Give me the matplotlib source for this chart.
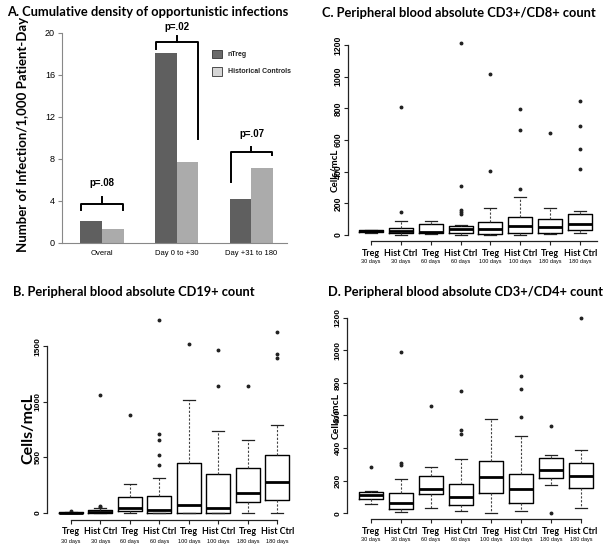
import matplotlib
matplotlib.use('Agg')
import matplotlib.pyplot as plt
from matplotlib.patches import Rectangle
import matplotlib.transforms as mtransforms

# ---------------- data ----------------
a_groups = ['Overal', 'Day 0 to +30', 'Day +31 to 180']
a_ntreg = [2.1, 18.1, 4.2]
a_hist = [1.35, 7.7, 7.15]
a_pvals = ['p=.08', 'p=.02', 'p=.07']
a_yticks = [0, 4, 8, 12, 16, 20]

box_labels = ['Treg', 'Hist Ctrl'] * 4
box_days = ['30 days', '30 days', '60 days', '60 days',
            '100 days', '100 days', '180 days', '180 days']

# B: CD19+
b_lo = [0, 0, 0, 0, 0, 0, 0, 0]
b_q1 = [0, 0, 21, 0, 0, 0, 99, 114]
b_med = [3, 8, 42, 24, 72, 48, 183, 282]
b_q3 = [6, 25, 144, 153, 447, 354, 408, 519]
b_hi = [10, 42, 264, 318, 1014, 741, 657, 795]
b_fliers = [[18], [52, 62, 1065], [885], [429, 525, 660, 708, 1734],
            [1515], [1146, 1461], [1146], [1389, 1425, 1629]]
b_yticks = [0, 500, 1000, 1500]

# C: CD3+/CD8+
c_lo = [14, 0, 4, 0, 0, 0, 6, 10]
c_q1 = [17, 10, 10, 15, 6, 10, 15, 29]
c_med = [22, 25, 19, 38, 40, 59, 52, 71]
c_q3 = [29, 44, 69, 57, 80, 113, 98, 130]
c_hi = [32, 86, 90, 65, 168, 243, 172, 149]
c_fliers = [[], [144, 806], [], [134, 147, 157, 310, 1210], [404, 1015],
            [289, 660, 796], [645], [415, 540, 687, 844]]
c_yticks = [0, 200, 400, 600, 800, 1000, 1200]

# D: CD3+/CD4+
d_lo = [55, 8, 33, 12, 0, 14, 172, 31]
d_q1 = [90, 25, 117, 49, 123, 66, 217, 154]
d_med = [111, 64, 152, 100, 221, 148, 264, 228]
d_q3 = [131, 127, 230, 182, 318, 240, 338, 310]
d_hi = [137, 209, 283, 336, 578, 473, 357, 387]
d_fliers = [[285], [297, 310, 988], [660], [486, 508, 750], [],
            [590, 761, 845], [4, 537], [1196]]
d_yticks = [0, 200, 400, 600, 800, 1000, 1200]

# ---------------- figure ----------------
W, H = 604, 551
fig = plt.figure(figsize=(W / 100, H / 100), dpi=100)
fig.patch.set_facecolor('white')

TITLE_FONT = 'Lato'
ARIAL = 'Liberation Sans'
TITLE_FS = 9.25


def rect(l, t, r, b):
    return [l / W, 1 - b / H, (r - l) / W, (b - t) / H]


def fx(x):
    return x / W


def fy(y):
    return 1 - y / H


# ---------------- Panel A ----------------
axA = fig.add_axes(rect(62, 33, 287, 243))
pos = list(range(len(a_groups)))
bw = 0.29
axA.bar([p - bw / 2 for p in pos], a_ntreg, width=bw, color='#5f5f5f', label='nTreg')
axA.bar([p + bw / 2 for p in pos], a_hist, width=bw, color='#ababab', label='Historical Controls')
axA.set_xlim(-0.535, 2.475)
axA.set_ylim(0, 20)
axA.set_yticks(a_yticks)
axA.set_yticklabels([str(v) for v in a_yticks], fontsize=6.5, family=ARIAL)
axA.set_xticks(pos)
axA.set_xticklabels(a_groups, fontsize=5.5, family=ARIAL)
axA.tick_params(axis='x', length=0, pad=5)
axA.tick_params(axis='y', length=3, color='#888888', pad=2)
for s in ['top', 'right']:
    axA.spines[s].set_visible(False)
for s in ['left', 'bottom']:
    axA.spines[s].set_color('#888888')
    axA.spines[s].set_linewidth(0.8)

# brackets: (left_end_y, right_end_y, horizontal_y, tick_top_y, text_y)
brackets = [(3.1, 3.1, 3.75, 4.4, 5.7),
            (18.5, 9.9, 19.15, 19.7, 20.6),
            (5.8, 8.35, 8.65, 9.15, 10.35)]
for p, (yl, yr, yh, yt, ytxt), txt in zip(pos, brackets, a_pvals):
    xl, xr = p - 0.28, p + 0.28
    axA.plot([xl, xl, xr, xr], [yl, yh, yh, yr], color='black', lw=1.4,
             clip_on=False, solid_joinstyle='round')
    axA.plot([p, p], [yh, yt], color='black', lw=1.4, clip_on=False)
    axA.text(p, ytxt, txt, ha='center', va='center', fontsize=7,
             fontweight='bold', family=ARIAL, clip_on=False)

# legend
for (yt, yb), col, lab in zip([(50, 58), (67, 76)], ['#6a6a6a', '#d6d6d6'],
                              ['nTreg', 'Historical Controls']):
    fig.add_artist(Rectangle((fx(212), fy(yb)), (222 - 212) / W, (yb - yt) / H,
                             transform=fig.transFigure, facecolor=col,
                             edgecolor='#333333', lw=0.6))
    fig.text(fx(228), fy((yt + yb) / 2), lab, fontsize=5, fontweight='bold',
             family=ARIAL, va='center', ha='left', color='#222222')

fig.text(fx(23), fy(134), 'Number of Infection/1,000 Patient-Day', rotation=90,
         ha='center', va='center', fontsize=9.5, fontweight='bold', family=TITLE_FONT)
fig.text(fx(7), fy(12), 'A. Cumulative density of opportunistic infections',
         ha='left', va='center', fontsize=TITLE_FS, fontweight='bold', family=TITLE_FONT)


# ---------------- Box panels ----------------
def box_panel(axrect, xlim, ylim, lo, q1, med, q3, hi, fliers, yticks,
              xbounds, label_y, days_y, ytick_fs, title, title_xy,
              ylab_xy, ylab_fs):
    ax = fig.add_axes(axrect)
    stats = []
    for i in range(len(med)):
        stats.append(dict(med=med[i], q1=q1[i], q3=q3[i], whislo=lo[i],
                          whishi=hi[i], fliers=fliers[i]))
    positions = list(range(1, len(med) + 1))
    ax.bxp(stats, positions=positions, widths=0.8, capwidths=0.4,
           boxprops=dict(color='black', lw=1.0),
           medianprops=dict(color='black', lw=2.0),
           whiskerprops=dict(color='#444444', lw=0.8, linestyle=(0, (2, 1.5))),
           capprops=dict(color='#222222', lw=0.9),
           flierprops=dict(marker='o', markersize=1.8, markerfacecolor='#222222',
                           markeredgecolor='#222222'))
    ax.set_xlim(*xlim)
    ax.set_ylim(*ylim)
    for s in ['top', 'right']:
        ax.spines[s].set_visible(False)
    ax.spines['left'].set_bounds(yticks[0], yticks[-1])
    ax.spines['bottom'].set_bounds(*xbounds)
    for s in ['left', 'bottom']:
        ax.spines[s].set_linewidth(0.9)
        ax.spines[s].set_color('#222222')
    ax.set_yticks(yticks)
    ax.set_yticklabels([str(v) for v in yticks], rotation=90, va='center',
                       fontsize=ytick_fs, fontweight='bold', family=ARIAL)
    ax.tick_params(axis='y', length=3, pad=1, color='#222222')
    ax.set_xticks(positions)
    ax.set_xticklabels([])
    ax.tick_params(axis='x', length=3, color='#222222')
    tr = mtransforms.blended_transform_factory(ax.transData, fig.transFigure)
    for p, lab, d in zip(positions, box_labels, box_days):
        ax.text(p, fy(label_y), lab, transform=tr, ha='center', va='center',
                fontsize=6.4, fontweight='bold', family=TITLE_FONT)
        ax.text(p, fy(days_y), d, transform=tr, ha='center', va='center',
                fontsize=4, family=ARIAL)
    fig.text(fx(title_xy[0]), fy(title_xy[1]), title, ha='left', va='center',
             fontsize=TITLE_FS, fontweight='bold', family=TITLE_FONT)
    fig.text(fx(ylab_xy[0]), fy(ylab_xy[1]), 'Cells/mcL', rotation=90,
             ha='center', va='center', fontsize=ylab_fs, fontweight='bold',
             family=TITLE_FONT)
    return ax


# B
box_panel(rect(47, 315, 295, 520), (0.197, 8.6), (-63, 1780),
          b_lo, b_q1, b_med, b_q3, b_hi, b_fliers, b_yticks,
          (1, 8), 531, 541, 6.0,
          'B. Peripheral blood absolute CD19+ count', (13, 292), (28, 429), 11.5)

# C
box_panel(rect(348, 38, 600, 241), (0.24, 8.66), (-38, 1244),
          c_lo, c_q1, c_med, c_q3, c_hi, c_fliers, c_yticks,
          (1, 8.55), 253, 262, 6.2,
          'C. Peripheral blood absolute CD3+/CD8+ count', (322, 13), (335, 170), 7)

# D
box_panel(rect(347, 310, 600, 519), (0.21, 8.64), (-35, 1247),
          d_lo, d_q1, d_med, d_q3, d_hi, d_fliers, d_yticks,
          (1, 8), 531, 539, 6.0,
          'D. Peripheral blood absolute CD3+/CD4+ count', (328, 292), (336, 416), 7.5)

fig.savefig('out.png', dpi=100, facecolor='white')
